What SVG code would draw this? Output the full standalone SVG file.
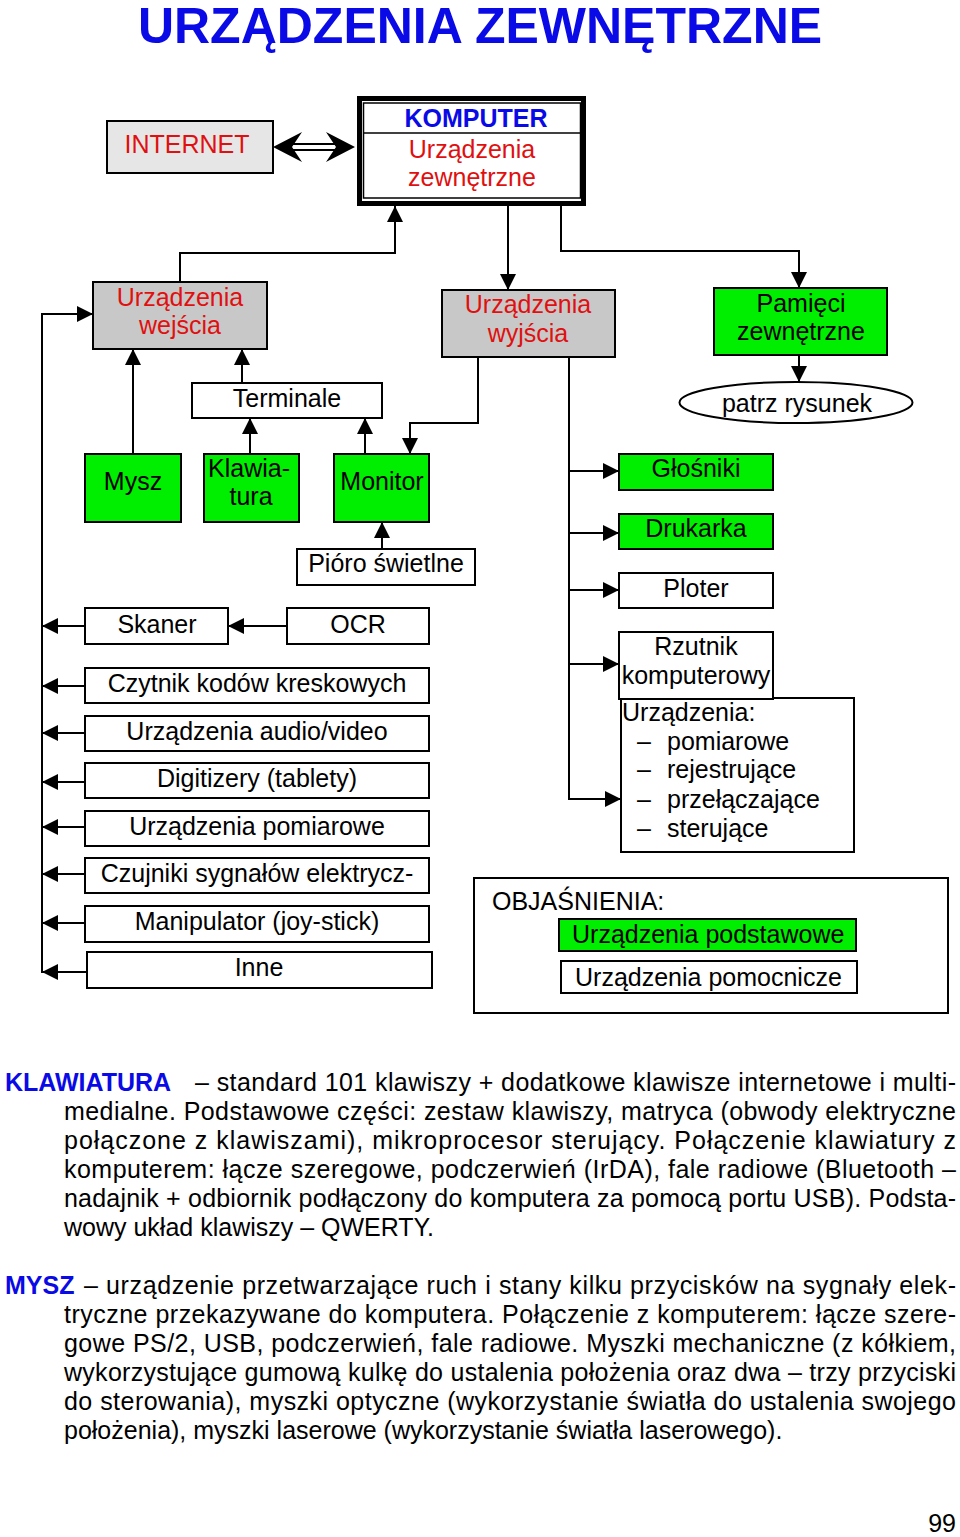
<svg xmlns="http://www.w3.org/2000/svg" width="960" height="1537" viewBox="0 0 960 1537">
<style>
text{font-family:"Liberation Sans",Arial,sans-serif;font-size:25px;fill:#000}
.c{text-anchor:middle}
.red{fill:#e01010}
.blue{fill:#0a0ae6}
.b{font-weight:bold}
.box{stroke:#000;stroke-width:2}
.w{fill:#fff}
.g{fill:#00ee00}
.gr{fill:#c8c8c8}
.ln{fill:none;stroke:#000;stroke-width:2}
</style>
<defs>
<marker id="ah" markerUnits="userSpaceOnUse" markerWidth="16" markerHeight="16" refX="16" refY="8" orient="auto">
<path d="M0,0 L16,8 L0,16 z" fill="#000"/>
</marker>
</defs>
<rect width="960" height="1537" fill="#fff"/>
<text x="480" y="43" class="c b blue" style="font-size:50px">URZĄDZENIA ZEWNĘTRZNE</text>

<g id="internet">
<rect x="107" y="121" width="166" height="52" class="box" fill="#e6e6e6"/>
<text x="187" y="153" class="c red">INTERNET</text>
</g>
<g id="komputer">
<rect x="359.5" y="98.5" width="224" height="105" fill="#fff" stroke="#000" stroke-width="5"/>
<rect x="363.5" y="103" width="217" height="95" fill="none" stroke="#000" stroke-width="1.5"/>
<line x1="363.5" y1="133" x2="584" y2="133" stroke="#000" stroke-width="1.5"/>
<text x="476" y="127" class="c b blue">KOMPUTER</text>
<text x="472" y="158" class="c red">Urządzenia</text>
<text x="472" y="186" class="c red">zewnętrzne</text>
</g>
<g id="wejscia">
<rect x="93" y="282" width="174" height="67" class="box gr"/>
<text x="180" y="306" class="c red">Urządzenia</text>
<text x="180" y="334" class="c red">wejścia</text>
</g>
<g id="wyjscia">
<rect x="442" y="290" width="173" height="67" class="box gr"/>
<text x="528" y="313" class="c red">Urządzenia</text>
<text x="528" y="342" class="c red">wyjścia</text>
</g>
<g id="pamieci">
<rect x="714" y="288" width="173" height="67" class="box g"/>
<text x="801" y="312" class="c">Pamięci</text>
<text x="801" y="340" class="c">zewnętrzne</text>
</g>
<g id="patrz">
<ellipse cx="796" cy="402.5" rx="116.5" ry="20.5" class="box w"/>
<text x="797" y="412" class="c">patrz rysunek</text>
</g>
<g id="terminale">
<rect x="192" y="383" width="190" height="35" class="box w"/>
<text x="287" y="407" class="c">Terminale</text>
</g>
<g id="mysz">
<rect x="85" y="454" width="96" height="68" class="box g"/>
<text x="133" y="490" class="c">Mysz</text>
</g>
<g id="klawiatura">
<rect x="204" y="454" width="95" height="68" class="box g"/>
<text x="249" y="477" class="c">Klawia-</text>
<text x="251" y="505" class="c">tura</text>
</g>
<g id="monitor">
<rect x="334" y="454" width="95" height="68" class="box g"/>
<text x="382" y="490" class="c">Monitor</text>
</g>
<g id="pioro">
<rect x="297" y="549" width="178" height="36" class="box w"/>
<text x="386" y="572" class="c">Pióro świetlne</text>
</g>
<g id="skaner">
<rect x="85" y="608" width="143" height="36" class="box w"/>
<text x="157" y="633" class="c">Skaner</text>
</g>
<g id="ocr">
<rect x="287" y="608" width="142" height="36" class="box w"/>
<text x="358" y="633" class="c">OCR</text>
</g>
<g id="czytnik">
<rect x="85" y="668" width="344" height="35" class="box w"/>
<text x="257" y="692" class="c">Czytnik kodów kreskowych</text>
</g>
<g id="audio">
<rect x="85" y="716" width="344" height="35" class="box w"/>
<text x="257" y="740" class="c">Urządzenia audio/video</text>
</g>
<g id="digitizery">
<rect x="85" y="763" width="344" height="35" class="box w"/>
<text x="257" y="787" class="c">Digitizery (tablety)</text>
</g>
<g id="pomiarowe">
<rect x="85" y="811" width="344" height="35" class="box w"/>
<text x="257" y="835" class="c">Urządzenia pomiarowe</text>
</g>
<g id="czujniki">
<rect x="85" y="858" width="344" height="35" class="box w"/>
<text x="257" y="882" class="c">Czujniki sygnałów elektrycz-</text>
</g>
<g id="manipulator">
<rect x="85" y="906" width="344" height="36" class="box w"/>
<text x="257" y="930" class="c">Manipulator (joy-stick)</text>
</g>
<g id="inne">
<rect x="87" y="952" width="345" height="36" class="box w"/>
<text x="259" y="976" class="c">Inne</text>
</g>
<g id="glosniki">
<rect x="619" y="454" width="154" height="36" class="box g"/>
<text x="696" y="477" class="c">Głośniki</text>
</g>
<g id="drukarka">
<rect x="619" y="514" width="154" height="35" class="box g"/>
<text x="696" y="537" class="c">Drukarka</text>
</g>
<g id="ploter">
<rect x="619" y="573" width="154" height="35" class="box w"/>
<text x="696" y="597" class="c">Ploter</text>
</g>
<g id="urzadzenia">
<rect x="621" y="698" width="233" height="154" class="box w"/>
<text x="622" y="721">Urządzenia:</text>
<text x="637" y="750">–</text><text x="667" y="750">pomiarowe</text>
<text x="637" y="778">–</text><text x="667" y="778">rejestrujące</text>
<text x="637" y="808">–</text><text x="667" y="808">przełączające</text>
<text x="637" y="837">–</text><text x="667" y="837">sterujące</text>
</g>
<g id="rzutnik">
<rect x="619" y="632" width="154" height="67" class="box w"/>
<text x="696" y="655" class="c">Rzutnik</text>
<text x="696" y="684" class="c">komputerowy</text>
</g>
<g id="objasnienia">
<rect x="474" y="878" width="474" height="135" class="box w"/>
<text x="492" y="910">OBJAŚNIENIA:</text>
<rect x="559" y="919" width="297" height="32" class="box g"/>
<text x="572" y="943">Urządzenia podstawowe</text>
<rect x="561" y="961" width="296" height="32" class="box w"/>
<text x="575" y="986">Urządzenia pomocnicze</text>
</g>

<g id="connectors" class="ln">
<line x1="292" y1="144" x2="337" y2="144"/>
<line x1="292" y1="150" x2="337" y2="150"/>
<path d="M273,147 L302,132 L292,147 L302,162 z" fill="#000" stroke="none"/>
<path d="M355,147 L326,132 L336,147 L326,162 z" fill="#000" stroke="none"/>
<path d="M180,282 V253 H395 V206" marker-end="url(#ah)"/>
<path d="M508,204 V290" marker-end="url(#ah)"/>
<path d="M561,204 V251 H799 V288" marker-end="url(#ah)"/>
<path d="M799,355 V382" marker-end="url(#ah)"/>
<path d="M133,454 V349" marker-end="url(#ah)"/>
<path d="M242,383 V349" marker-end="url(#ah)"/>
<path d="M250,454 V418" marker-end="url(#ah)"/>
<path d="M365,454 V418" marker-end="url(#ah)"/>
<path d="M478,357 V423 H410 V454" marker-end="url(#ah)"/>
<path d="M382,549 V522" marker-end="url(#ah)"/>
<path d="M287,626 H228" marker-end="url(#ah)"/>
<path d="M85,626 H42" marker-end="url(#ah)"/>
<path d="M42,973 V314 H93" marker-end="url(#ah)"/>
<path d="M85,686 H42" marker-end="url(#ah)"/>
<path d="M85,733 H42" marker-end="url(#ah)"/>
<path d="M85,782 H42" marker-end="url(#ah)"/>
<path d="M85,827 H42" marker-end="url(#ah)"/>
<path d="M85,874 H42" marker-end="url(#ah)"/>
<path d="M85,923 H42" marker-end="url(#ah)"/>
<path d="M87,972 H42" marker-end="url(#ah)"/>
<path d="M569,357 V799"/>
<path d="M569,471 H619" marker-end="url(#ah)"/>
<path d="M569,533 H619" marker-end="url(#ah)"/>
<path d="M569,590 H619" marker-end="url(#ah)"/>
<path d="M569,664 H619" marker-end="url(#ah)"/>
<path d="M568,799 H621" marker-end="url(#ah)"/>
</g>

<g id="klawiatura-text">
<text x="5" y="1091" class="b blue">KLAWIATURA</text>
<text x="195" y="1091" textLength="761" lengthAdjust="spacing">– standard 101 klawiszy + dodatkowe klawisze internetowe i multi-</text>
<text x="64" y="1120" textLength="892" lengthAdjust="spacing">medialne. Podstawowe części: zestaw klawiszy, matryca (obwody elektryczne</text>
<text x="64" y="1149" textLength="892" lengthAdjust="spacing">połączone z klawiszami), mikroprocesor sterujący. Połączenie klawiatury z</text>
<text x="64" y="1178" textLength="892" lengthAdjust="spacing">komputerem: łącze szeregowe, podczerwień (IrDA), fale radiowe (Bluetooth –</text>
<text x="64" y="1207" textLength="892" lengthAdjust="spacing">nadajnik + odbiornik podłączony do komputera za pomocą portu USB). Podsta-</text>
<text x="64" y="1236">wowy układ klawiszy – QWERTY.</text>
</g>
<g id="mysz-text">
<text x="5" y="1294" class="b blue">MYSZ</text>
<text x="84" y="1294" textLength="872" lengthAdjust="spacing">– urządzenie przetwarzające ruch i stany kilku przycisków na sygnały elek-</text>
<text x="64" y="1323" textLength="892" lengthAdjust="spacing">tryczne przekazywane do komputera. Połączenie z komputerem: łącze szere-</text>
<text x="64" y="1352" textLength="892" lengthAdjust="spacing">gowe PS/2, USB, podczerwień, fale radiowe. Myszki mechaniczne (z kółkiem,</text>
<text x="64" y="1381" textLength="892" lengthAdjust="spacing">wykorzystujące gumową kulkę do ustalenia położenia oraz dwa – trzy przyciski</text>
<text x="64" y="1410" textLength="892" lengthAdjust="spacing">do sterowania), myszki optyczne (wykorzystanie światła do ustalenia swojego</text>
<text x="64" y="1439">położenia), myszki laserowe (wykorzystanie światła laserowego).</text>
</g>
<text x="956" y="1532" style="text-anchor:end">99</text>
</svg>
